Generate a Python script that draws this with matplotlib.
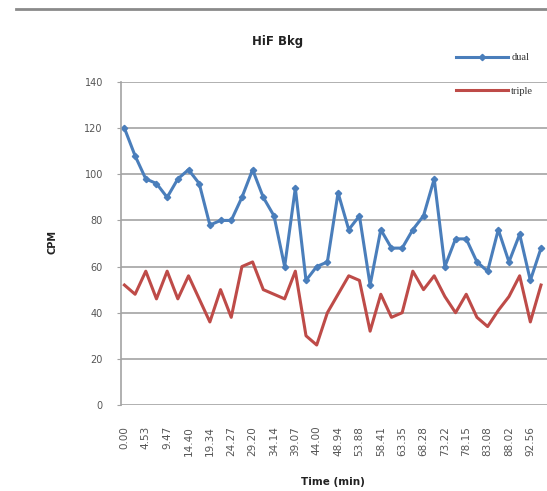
import matplotlib
matplotlib.use("Agg")
import matplotlib.pyplot as plt
from matplotlib.lines import Line2D

# Background count rate readings, one every ~2.5 minutes
dual = [120, 108, 98, 96, 90, 98, 102, 96, 78, 80,
        80, 90, 102, 90, 82, 60, 94, 54, 60, 62,
        92, 76, 82, 52, 76, 68, 68, 76, 82, 98,
        60, 72, 72, 62, 58, 76, 62, 74, 54, 68]
triple = [52, 48, 58, 46, 58, 46, 56, 46, 36, 50,
          38, 60, 62, 50, 48, 46, 58, 30, 26, 40,
          48, 56, 54, 32, 48, 38, 40, 58, 50, 56,
          47, 40, 48, 38, 34, 41, 47, 56, 36, 52]
time_labels = ["0.00", "4.53", "9.47", "14.40", "19.34", "24.27", "29.20",
               "34.14", "39.07", "44.00", "48.94", "53.88", "58.41", "63.35",
               "68.28", "73.22", "78.15", "83.08", "88.02", "92.56"]
y_ticks = [0, 20, 40, 60, 80, 100, 120, 140]

W, H = 547, 491
fig = plt.figure(figsize=(W / 100, H / 100), dpi=100)
ax = fig.add_axes([121 / W, 1 - 405 / H, (W - 121) / W, (405 - 82) / H])

x = list(range(len(dual)))
blue = "#4A7EBB"
red = "#BE4B48"
l1, = ax.plot(x, dual, color=blue, lw=2.2, marker="D", ms=3.2,
              markerfacecolor=blue, markeredgecolor=blue, label="dual")
l2, = ax.plot(x, triple, color=red, lw=2.2, label="triple")

ax.set_xlim(-0.32, len(dual) - 1 + 0.56)
ax.set_ylim(0, 140)
ax.set_yticks(y_ticks)
ax.set_yticklabels([str(v) for v in y_ticks])
ax.set_xticks(x[::2])
ax.set_xticklabels(time_labels, rotation=90)

grid_c = "#a3a3a3"
ax.yaxis.grid(True, color=grid_c, lw=1.2)
ax.set_axisbelow(True)
for s in ["top", "right", "bottom"]:
    ax.spines[s].set_visible(False)
ax.spines["left"].set_color(grid_c)
ax.spines["left"].set_linewidth(1.2)

ax.tick_params(axis="y", length=3, color=grid_c, pad=10, labelsize=7,
               labelcolor="#555555")
ax.tick_params(axis="x", length=0, pad=15, labelsize=7.5,
               labelcolor="#555555")

# rule across the top of the sheet
fig.add_artist(Line2D([16 / W, 1.0], [1 - 9 / H, 1 - 9 / H],
                      color="#8a8a8a", lw=2.0))

fig.text(278 / W, 1 - 42 / H, "HiF Bkg", ha="center", va="center",
         fontsize=8.5, fontweight="bold", color="#222222")
fig.text(333 / W, 1 - 482 / H, "Time (min)", ha="center", va="center",
         fontsize=7.5, fontweight="bold", color="#222222")
fig.text(52 / W, 1 - 242 / H, "CPM", ha="center", va="center",
         rotation=90, fontsize=7, fontweight="bold", color="#222222")

fig.legend(handles=[l1, l2], labels=["dual", "triple"],
           loc="upper left", bbox_to_anchor=(456 / W, 1 - 53 / H),
           frameon=False, handlelength=5.0, handletextpad=0.3,
           labelspacing=2.3, borderpad=0, borderaxespad=0,
           prop={"family": "Liberation Serif", "size": 7.5},
           labelcolor="#333333")

fig.savefig("out.png", dpi=100)
